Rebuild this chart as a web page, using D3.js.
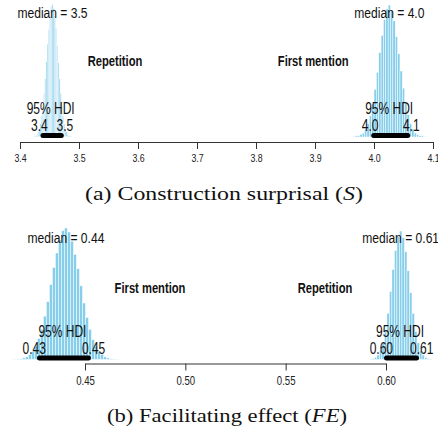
<!DOCTYPE html>
<html>
<head>
<meta charset="utf-8">
<script src="https://cdn.jsdelivr.net/npm/d3@7"></script>
<style>
  body { margin: 0; background: #fff; }
  svg { display: block; }
  .axis path, .axis line { stroke: #333; stroke-width: 1; }
  .axis text { fill: #222; font-family: "Liberation Sans", Arial, sans-serif; }
</style>
</head>
<body>
<div id="chart"></div>
<script>
// axis ticks
const ticksS = [3.4, 3.5, 3.6, 3.7, 3.8, 3.9, 4.0, 4.1];
const ticksFE = [0.45, 0.50, 0.55, 0.60];

// posterior histograms: [first bin start, bin width] + relative heights
const sRepBins = [3.424, 0.002];
const sRepCounts = [1, 1, 2, 4, 6, 10, 16, 23, 33, 44, 57, 70, 81, 91, 98, 100, 97, 91, 82, 69, 56, 44, 33, 23, 16, 10, 6, 4, 2, 1, 1];
const sFirstBins = [3.960, 0.004];
const sFirstCounts = [0.3, 0.5, 1, 1, 2, 3, 6, 10, 16, 25, 36, 49, 64, 77, 89, 97, 100, 96, 88, 76, 63, 50, 37, 26, 17, 10, 6, 3, 2, 1, 1, 0.5, 0.3];
const feFirstBins = [0.41425, 0.0015];
const feFirstCounts = [0.2, 0.3, 0.6, 1.2, 2, 4, 6, 10, 16, 23, 33, 44, 57, 70, 81, 91, 98, 100, 97, 90, 80, 69, 56, 43, 32, 23, 15, 10, 6, 4, 2, 1.2, 0.6, 0.3, 0.2];
const feRepBins = [0.5917, 0.00125];
const feRepCounts = [0.3, 0.8, 1.8, 3.5, 7, 13, 23, 36, 53, 70, 85, 96, 100, 95, 84, 69, 52, 36, 22, 13, 7, 3.5, 1.7, 0.8, 0.3];

// medians, HDI limits and their printed labels
const sMedians = [3.455, 4.026];
const sMedianLabels = ["median = 3.5", "median = 4.0"];
const sHdi = [[3.439, 3.470], [3.9995, 4.057]];
const sHdiLabels = [["3.4", "3.5"], ["4.0", "4.1"]];
const feMedians = [0.4405, 0.6073];
const feMedianLabels = ["median = 0.44", "median = 0.61"];
const feHdi = [[0.4273, 0.4517], [0.60025, 0.6152]];
const feHdiLabels = [["0.43", "0.45"], ["0.60", "0.61"]];

const groupNamesS = ["Repetition", "First mention"];
const groupNamesFE = ["First mention", "Repetition"];

const W = 438, H = 432;
const FONT = "'Liberation Sans', Arial, sans-serif";

const svg = d3.select("#chart").append("svg").attr("width", W).attr("height", H);

// plot text is horizontally condensed
function label(g, x, y, txt, size, sx, weight) {
    g.append("text")
        .attr("transform", `translate(${x},${y}) scale(${sx},1)`)
        .attr("text-anchor", "middle")
        .style("font", `${weight || "normal"} ${size}px ${FONT}`)
        .style("fill", "#111")
        .text(txt);
}

function drawPanel(p) {
    const g = svg.append("g");
    const x = d3.scaleLinear().domain(p.domain).range(p.range);

    // histograms
    p.hists.forEach((h, k) => {
        const y = d3.scaleLinear().domain([0, 100]).range([p.base, h.peakY]);
        const [start, bw] = h.bins;
        g.append("g").selectAll("rect")
            .data(h.counts)
            .join("rect")
            .attr("x", (d, i) => x(start + i * bw))
            .attr("width", (d, i) => x(start + (i + 1) * bw) - x(start + i * bw))
            .attr("y", d => y(d))
            .attr("height", d => p.base - y(d))
            .attr("fill", "#87CEEB")
            .attr("stroke", "#fff")
            .attr("stroke-width", 0.5);

        // HDI bar
        const [lo, hi] = p.hdi[k];
        g.append("line")
            .attr("x1", x(lo)).attr("x2", x(hi))
            .attr("y1", p.base - 1.5).attr("y2", p.base - 1.5)
            .attr("stroke", "#000").attr("stroke-width", 5)
            .attr("stroke-linecap", "round");

        const [tLo, tHi] = p.hdiLabels[k];
        const wLo = tLo.length > 3 ? 26 : 18;
        label(g, x(lo) - 0.2 * wLo, p.base - 6, tLo, 16, 0.75);
        label(g, x(hi) + 0.2 * wLo, p.base - 6, tHi, 16, 0.75);
        label(g, (x(lo) + x(hi)) / 2 - 1.5, p.base - 23, "95% HDI", 16, 0.75);
        label(g, x(p.medians[k]), p.medianY, p.medianLabels[k], 15.5, 0.78);
        label(g, x(p.groupAt[k]), p.groupY, p.groups[k], 14, 0.8, "bold");
    });

    // axis
    const ax = g.append("g")
        .attr("class", "axis")
        .attr("transform", `translate(0,${p.axisY})`)
        .call(d3.axisBottom(x).tickValues(p.ticks).tickFormat(d3.format(p.fmt))
            .tickSize(7).tickSizeOuter(0).tickPadding(p.pad));
    ax.selectAll("text")
        .attr("transform", "scale(0.8,1)")
        .style("font-size", p.tickSize + "px");

    // caption
    const cap = svg.append("text")
        .attr("x", p.capX).attr("y", p.capY)
        .attr("text-anchor", "middle")
        .attr("textLength", p.capW)
        .attr("lengthAdjust", "spacingAndGlyphs")
        .style("font", "18.5px 'Liberation Serif', 'Times New Roman', serif")
        .style("fill", "#111");
    p.caption.forEach(([t, it]) => cap.append("tspan").style("font-style", it ? "italic" : "normal").text(t));
}

drawPanel({
    domain: [3.4, 4.1], range: [20, 433], axisY: 142, base: 137,
    ticks: ticksS, fmt: ".1f", tickSize: 11, pad: 5,
    hists: [
        { bins: sRepBins, counts: sRepCounts, peakY: 4 },
        { bins: sFirstBins, counts: sFirstCounts, peakY: 5 }
    ],
    hdi: sHdi, hdiLabels: sHdiLabels,
    medians: sMedians, medianLabels: sMedianLabels, medianY: 18,
    groups: groupNamesS, groupAt: [3.561, 3.897], groupY: 66,
    caption: [["(a) Construction surprisal ("], ["S", true], [")"]],
    capX: 224, capY: 200, capW: 278
});

drawPanel({
    domain: [0.45, 0.60], range: [85, 386], axisY: 363.5, base: 359.5,
    ticks: ticksFE, fmt: ".2f", tickSize: 12, pad: 6,
    hists: [
        { bins: feFirstBins, counts: feFirstCounts, peakY: 228 },
        { bins: feRepBins, counts: feRepCounts, peakY: 231 }
    ],
    hdi: feHdi, hdiLabels: feHdiLabels,
    medians: feMedians, medianLabels: feMedianLabels, medianY: 243,
    groups: groupNamesFE, groupAt: [0.4824, 0.5696], groupY: 293,
    caption: [["(b) Facilitating effect ("], ["FE", true], [")"]],
    capX: 227, capY: 422, capW: 240
});
</script>
</body>
</html>
